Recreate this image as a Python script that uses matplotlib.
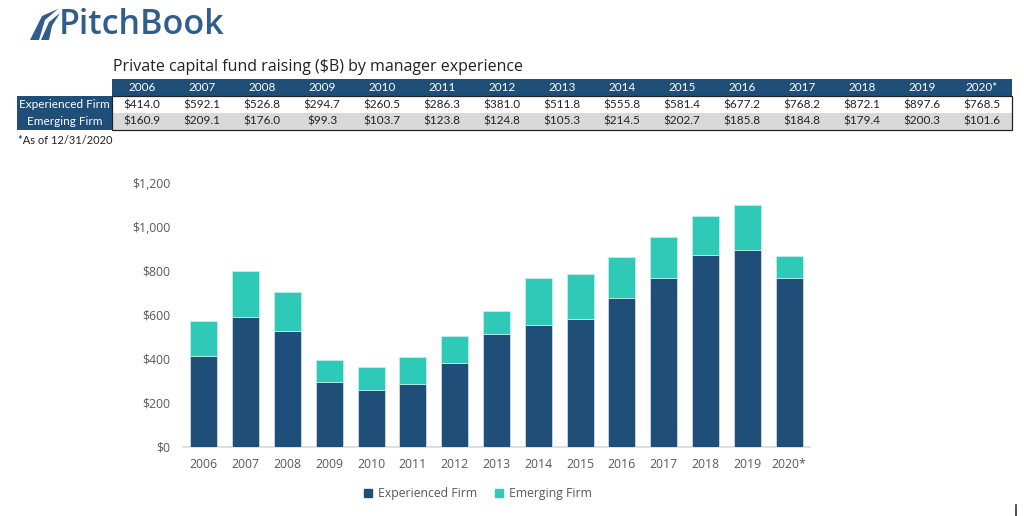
import matplotlib
matplotlib.use("Agg")
import matplotlib.pyplot as plt
from matplotlib.patches import Rectangle, Polygon
from matplotlib.lines import Line2D

years = ["2006", "2007", "2008", "2009", "2010", "2011", "2012", "2013",
         "2014", "2015", "2016", "2017", "2018", "2019", "2020*"]
experienced = [414.0, 592.1, 526.8, 294.7, 260.5, 286.3, 381.0, 511.8,
               555.8, 581.4, 677.2, 768.2, 872.1, 897.6, 768.5]
emerging = [160.9, 209.1, 176.0, 99.3, 103.7, 123.8, 124.8, 105.3,
            214.5, 202.7, 185.8, 184.8, 179.4, 200.3, 101.6]
series_names = ["Experienced Firm", "Emerging Firm"]
yticks = [0, 200, 400, 600, 800, 1000, 1200]

DARK = "#1F4E79"
TEAL = "#2EC9B7"
GRAY_TXT = "#595959"
W, H = 1024, 516

fig = plt.figure(figsize=(W / 100, H / 100), dpi=100)

def fx(x):
    return x / W

def fy(y):
    return 1 - y / H

# --- Logo ---
logo_color = "#2F5D8C"
fig.patches.append(Polygon([(fx(30), fy(40)), (fx(42), fy(16)), (fx(58), fy(9)),
                            (fx(45), fy(20)), (fx(39), fy(40))],
                           closed=True, transform=fig.transFigure,
                           facecolor=logo_color, edgecolor="none"))
fig.patches.append(Polygon([(fx(41), fy(40)), (fx(49), fy(22)), (fx(60), fy(13)),
                            (fx(52), fy(26)), (fx(49), fy(40))],
                           closed=True, transform=fig.transFigure,
                           facecolor=logo_color, edgecolor="none"))
fig.text(fx(59), fy(25), "PitchBook", fontsize=24.5, color=logo_color,
         family="Open Sans", fontweight="semibold", va="center", ha="left")

# --- Table ---
fig.text(fx(113), fy(67), "Private capital fund raising ($B) by manager experience",
         fontsize=11.5, color="#222222", family="Open Sans", va="center", ha="left")

tx0, tx1 = 112, 1012
lab_x0 = 17
colw = (tx1 - tx0) / len(years)
hdr_top, row_h = 79, 17
tfam = ["Lato", "DejaVu Sans"]

fig.patches.append(Rectangle((fx(tx0), fy(hdr_top + row_h)), fx(tx1 - tx0), row_h / H,
                             transform=fig.transFigure, facecolor=DARK, edgecolor="none"))
fig.patches.append(Rectangle((fx(lab_x0), fy(hdr_top + 3 * row_h)), fx(tx0 - lab_x0), 2 * row_h / H,
                             transform=fig.transFigure, facecolor=DARK, edgecolor="none"))
fig.patches.append(Rectangle((fx(tx0), fy(hdr_top + 3 * row_h)), fx(tx1 - tx0), row_h / H,
                             transform=fig.transFigure, facecolor="#D9D9D9", edgecolor="none"))
fig.patches.append(Rectangle((fx(tx0), fy(hdr_top + 3 * row_h)), fx(tx1 - tx0), 2 * row_h / H,
                             transform=fig.transFigure, facecolor="none", edgecolor="#222222",
                             linewidth=0.9))

for i, yr in enumerate(years):
    cx = tx0 + colw * (i + 0.5)
    fig.text(fx(cx), fy(hdr_top + row_h / 2), yr, color="white", fontsize=8.5,
             family=tfam, ha="center", va="center")
    fig.text(fx(cx), fy(hdr_top + 1.5 * row_h), f"${experienced[i]:.1f}", color="#222222",
             fontsize=8.5, family=tfam, ha="center", va="center")
    fig.text(fx(cx), fy(hdr_top + 2.5 * row_h), f"${emerging[i]:.1f}", color="#222222",
             fontsize=8.5, family=tfam, ha="center", va="center")
for j, name in enumerate(series_names):
    fig.text(fx((lab_x0 + tx0) / 2), fy(hdr_top + (1.5 + j) * row_h), name, color="white",
             fontsize=8.5, family=tfam, ha="center", va="center")

fig.text(fx(18), fy(141), "*As of 12/31/2020", fontsize=8, family=tfam,
         color="#222222", ha="left", va="center")

# --- Chart ---
ax = fig.add_axes([fx(183), fy(447), fx(810 - 183), (447 - 183) / H])
x = list(range(len(years)))
ax.bar(x, experienced, width=0.65, color=DARK, edgecolor="#DDE6F0", linewidth=0.5,
       label=series_names[0], zorder=3)
ax.bar(x, emerging, bottom=experienced, width=0.65, color=TEAL, edgecolor="#C8F2EC",
       linewidth=0.5, label=series_names[1], zorder=3)
ax.set_xlim(-0.5, len(years) - 0.5)
ax.set_ylim(0, 1200)
ax.set_yticks(yticks)
ax.set_yticklabels([f"${v:,}" for v in yticks])
ax.set_xticks(x)
ax.set_xticklabels(years)
for sp in ["top", "right", "left"]:
    ax.spines[sp].set_visible(False)
ax.spines["bottom"].set_color("#D9D9D9")
ax.spines["bottom"].set_linewidth(1.2)
ax.tick_params(axis="both", length=0, labelsize=8.8, labelcolor=GRAY_TXT)
ax.tick_params(axis="y", pad=9)
ax.tick_params(axis="x", pad=8)
for lab in ax.get_xticklabels() + ax.get_yticklabels():
    lab.set_family("Open Sans")

leg = fig.legend(handles=[Rectangle((0, 0), 1, 1, color=DARK), Rectangle((0, 0), 1, 1, color=TEAL)],
                 labels=series_names, loc="center", bbox_to_anchor=(fx(478), fy(494)),
                 ncol=2, frameon=False, handlelength=0.6, handleheight=0.6,
                 handletextpad=0.5, columnspacing=1.5,
                 prop={"family": "Open Sans", "size": 8.8})
for t in leg.get_texts():
    t.set_color(GRAY_TXT)

fig.add_artist(Line2D([fx(1016), fx(1016)], [fy(505), fy(516)], transform=fig.transFigure,
                      color="#333333", linewidth=1.2))

fig.savefig("out.png", dpi=100)
